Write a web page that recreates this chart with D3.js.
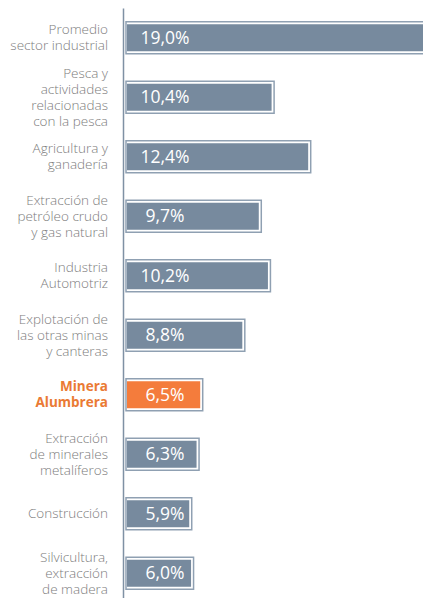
<!DOCTYPE html>
<html>
<head>
<meta charset="utf-8">
<script src="https://cdn.jsdelivr.net/npm/d3@7"></script>
<style>
  body { margin: 0; background: #fff; }
  .chart text { font-family: "Open Sans", sans-serif; }
</style>
</head>
<body>
<div class="chart"></div>
<script>
// categories (line breaks are the label wraps)
const categories = [
  "Promedio\nsector industrial",
  "Pesca y\nactividades\nrelacionadas\ncon la pesca",
  "Agricultura y\nganadería",
  "Extracción de\npetróleo crudo\ny gas natural",
  "Industria\nAutomotriz",
  "Explotación de\nlas otras minas\ny canteras",
  "Minera\nAlumbrera",
  "Extracción\nde minerales\nmetalíferos",
  "Construcción",
  "Silvicultura,\nextracción\nde madera"
];
const values = [19.0, 10.4, 12.4, 9.7, 10.2, 8.8, 6.5, 6.3, 5.9, 6.0];
const highlight = "Minera\nAlumbrera";

const width = 423, height = 598;
const margin = {left: 123};

const fmt = d3.formatLocale({decimal: ",", thousands: ".", grouping: [3], currency: ["", ""]}).format(".1f");

const svg = d3.select(".chart").append("svg")
  .attr("width", width)
  .attr("height", height);

// bar scale does not start at zero in the original
const x = d3.scaleLinear().domain([2.5, 19]).range([0, 302]);
const y = d3.scaleBand().domain(categories).range([8, 603]);

const barH = 27;
const x0 = margin.left + 4;

const g = svg.append("g");

const rows = g.selectAll("g.row")
  .data(categories)
  .join("g")
  .attr("class", "row")
  .attr("transform", d => "translate(0," + (y(d) + y.bandwidth() / 2) + ")");

// outline frame
rows.append("rect")
  .attr("x", x0 - 1)
  .attr("y", -barH / 2 - 2.5)
  .attr("width", (d, i) => x(values[i]) + 3.5)
  .attr("height", barH + 5)
  .attr("fill", "none")
  .attr("stroke", "#8fa0b2")
  .attr("stroke-width", 1.5);

rows.append("rect")
  .attr("x", x0)
  .attr("y", -barH / 2)
  .attr("width", (d, i) => x(values[i]))
  .attr("height", barH)
  .attr("fill", d => d === highlight ? "#f47c3c" : "#778a9e");

rows.append("text")
  .attr("x", 165)
  .attr("y", 6)
  .attr("text-anchor", "middle")
  .attr("fill", "#fff")
  .style("font-size", "17.5px")
  .text((d, i) => fmt(values[i]) + "%");

// axis line + labels
const axis = svg.append("g")
  .attr("transform", "translate(" + margin.left + ",0)")
  .call(d3.axisLeft(y).tickSize(0).tickSizeOuter(0).tickPadding(15));

axis.select(".domain")
  .attr("stroke", "#7f91a4")
  .attr("stroke-width", 1.5);

axis.selectAll(".tick text")
  .attr("fill", d => d === highlight ? "#ea7a34" : "#7d7d7d")
  .style("font-size", "13.5px")
  .style("font-weight", d => d === highlight ? "700" : "300")
  .style("font-family", "'Open Sans', sans-serif")
  .each(function(d) {
    const lines = d.split("\n");
    const t = d3.select(this).text(null).attr("dy", null);
    lines.forEach((line, k) => {
      t.append("tspan")
        .attr("x", -15)
        .attr("y", (k - (lines.length - 1) / 2) * 16 + 4.5)
        .text(line);
    });
  });
</script>
</body>
</html>
